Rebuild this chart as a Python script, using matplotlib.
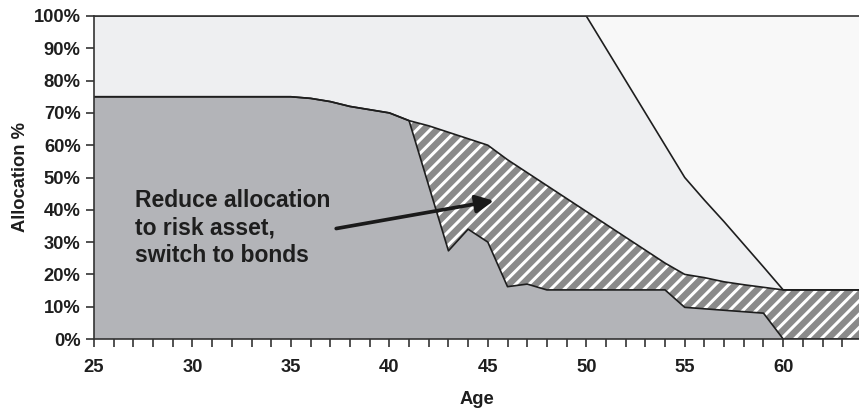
import matplotlib
matplotlib.use("Agg")
import matplotlib.pyplot as plt
import numpy as np
from matplotlib.ticker import MultipleLocator, FuncFormatter

# Data (allocation % by age)
ages_risk = [25, 35, 36, 37, 38, 39, 40, 41, 43, 44, 45, 46, 47, 48, 54, 55, 59, 60, 64]
risk_top = [75, 75, 74.5, 73.5, 72, 71, 70, 67.6, 27.3, 34, 30, 16.2, 17, 15.2, 15.2, 9.8, 8, 0, 0]

ages_bond = [25, 35, 36, 37, 38, 39, 40, 41, 42, 43, 44, 45, 46, 47, 48, 49, 50, 51, 52, 53, 54, 55, 56, 57, 58, 59, 60, 64]
bond_top = [75, 75, 74.5, 73.5, 72, 71, 70, 67.6, 66, 64, 62, 60, 55.5, 51.5, 47.5, 43.5, 39.5, 35.5, 31.5, 27.5, 23.5, 20, 19, 17.7, 16.8, 16, 15.2, 15.2]

ages_glide = [25, 50, 51, 52, 53, 54, 55, 56, 57, 58, 59, 60, 64]
glide_top = [100, 100, 90, 80, 70, 60, 50, 43, 36.3, 29.3, 22.3, 15.2, 15.2]

x_ticks = [25, 30, 35, 40, 45, 50, 55, 60]
y_ticks = [0, 10, 20, 30, 40, 50, 60, 70, 80, 90, 100]

DPI = 120
plt.rcParams['font.family'] = ['Liberation Sans', 'DejaVu Sans']
plt.rcParams['hatch.linewidth'] = 1.8

fig = plt.figure(figsize=(859 / DPI, 412 / DPI), dpi=DPI)
ax = fig.add_axes([94 / 859, (412 - 339) / 412, 1 - 94 / 859, (339 - 16) / 412])

grid = np.union1d(np.union1d(ages_risk, ages_bond), ages_glide)
r = np.interp(grid, ages_risk, risk_top)
b = np.interp(grid, ages_bond, bond_top)
g = np.interp(grid, ages_glide, glide_top)

ax.fill_between(grid, g, 100, facecolor='#f8f8f8', edgecolor='none', lw=0)
ax.fill_between(grid, b, g, facecolor='#eeeff1', edgecolor='none', lw=0)
ax.fill_between(grid, r, b, facecolor='#8a8a8a', edgecolor='white', hatch='///', lw=0)
ax.fill_between(grid, 0, r, facecolor='#b3b4b8', edgecolor='none', lw=0)

lc = '#1e1e1e'
ax.plot(ages_glide, glide_top, color=lc, lw=1.0)
ax.plot(ages_bond, bond_top, color=lc, lw=1.0)
ax.plot(ages_risk, risk_top, color=lc, lw=1.0)

ax.set_xlim(25, 63.85)
ax.set_ylim(0, 100)
ax.set_xticks(x_ticks)
ax.xaxis.set_minor_locator(MultipleLocator(1))
ax.set_yticks(y_ticks)
ax.yaxis.set_major_formatter(FuncFormatter(lambda v, p: f"{int(v)}%"))

for s in ['left', 'bottom', 'top']:
    ax.spines[s].set_color('#333333')
    ax.spines[s].set_linewidth(1.0)
ax.spines['right'].set_visible(False)

ax.tick_params(axis='both', which='both', direction='out', color='#333333', width=1.0)
ax.tick_params(axis='x', which='major', length=5, pad=7)
ax.tick_params(axis='x', which='minor', length=5)
ax.tick_params(axis='y', which='major', length=5, pad=3)
for lab in ax.get_xticklabels() + ax.get_yticklabels():
    lab.set_fontweight('bold')
    lab.set_fontsize(11)
    lab.set_color('#1e1e1e')

ax.set_xlabel('Age', fontsize=11, fontweight='bold', color='#1e1e1e', labelpad=9)
ax.set_ylabel('Allocation %', fontsize=11, fontweight='bold', color='#1e1e1e', labelpad=3)

ax.text(27.08, 34.4, 'Reduce allocation\nto risk asset,\nswitch to bonds', ha='left', va='center',
        fontsize=13.7, fontweight='bold', color='#1e1e1e', linespacing=1.27)
ax.annotate('', xy=(45.3, 42.8), xytext=(37.3, 34.2),
            arrowprops=dict(arrowstyle='-|>,head_length=0.9,head_width=0.45', lw=2.2, color='#1a1a1a',
                            shrinkA=0, shrinkB=0))

fig.savefig('out.png', dpi=DPI)
